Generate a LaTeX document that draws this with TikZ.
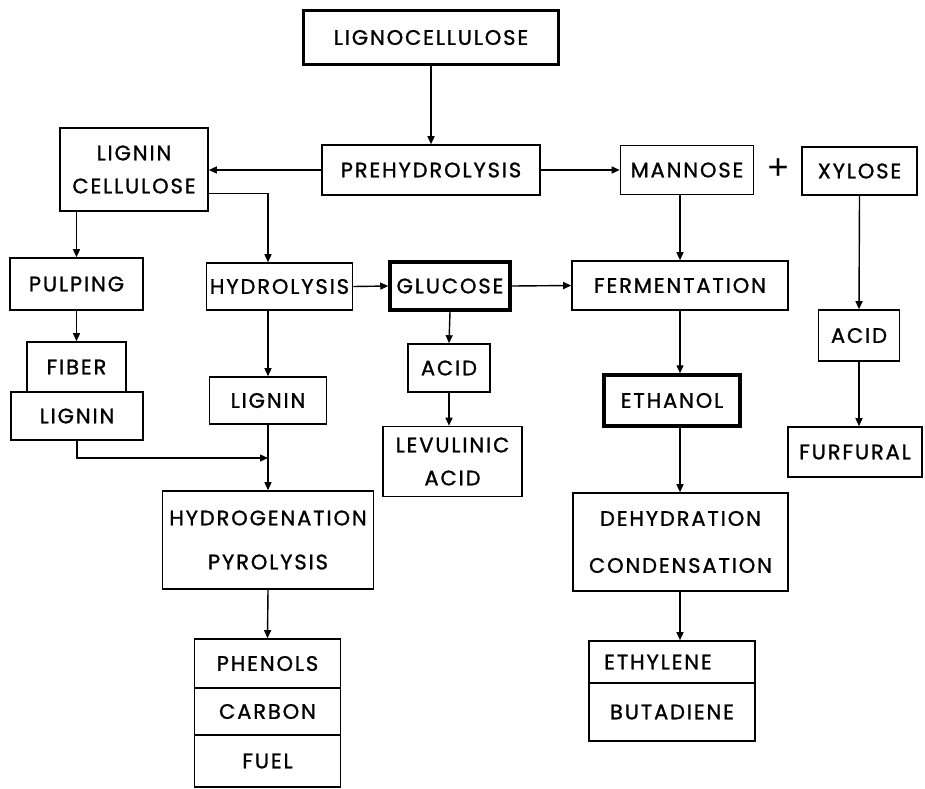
\documentclass[tikz,border=0pt]{standalone}
\usepackage{fontspec}
\setmainfont{Poppins}[LetterSpace=9, FakeBold=1.2]
\newfontfamily\sottile{Liberation Sans}
\usepackage{tikz}
\usetikzlibrary{arrows.meta}

\tikzset{
    box/.style={draw, line width=1.6pt, inner sep=0pt, align=center,
        font=\fontsize{21}{33}\selectfont},
    boldbox/.style={box, line width=3.5pt},
    freccia/.style={line width=1.4pt, -{Triangle[length=8pt,width=7pt]}},
}

\begin{document}
\begin{tikzpicture}[x=1pt, y=-1pt]
    \useasboundingbox (0,0) rectangle (925,788);

    % Scatole
    \node[boldbox, minimum width=255pt, minimum height=54pt] (ligno) at (431,37.5) {LIGNOCELLULOSE};
    \node[box, minimum width=218pt, minimum height=50pt] (prehyd) at (431,170) {PREHYDROLYSIS};
    \node[box, minimum width=148pt, minimum height=83pt] (lc) at (134,169.5) {LIGNIN\\CELLULOSE};
    \node[box, minimum width=133pt, minimum height=49pt] (mannose) at (687,170) {MANNOSE};
    \node[font=\sottile\fontsize{36}{36}\selectfont] (piu) at (778,169) {+};
    \node[box, minimum width=115pt, minimum height=48pt] (xylose) at (859.5,171) {XYLOSE};

    \node[box, minimum width=133pt, minimum height=52pt] (pulp) at (76.5,284) {PULPING};
    \node[box, minimum width=146pt, minimum height=47pt] (hydro) at (279.5,286.5) {HYDROLYSIS};
    \node[boldbox, minimum width=120pt, minimum height=48pt] (gluc) at (450,286) {GLUCOSE};
    \node[box, minimum width=216pt, minimum height=49pt] (ferm) at (680,285.5) {FERMENTATION};
    \node[box, minimum width=81pt, minimum height=51pt] (acidr) at (859,335.5) {ACID};
    \node[box, minimum width=134pt, minimum height=50pt] (furf) at (855,452) {FURFURAL};

    \node[box, minimum width=99pt, minimum height=50pt] (fiber) at (76.5,367) {FIBER};
    \node[box, minimum width=132pt, minimum height=48pt] (lig2) at (77,416) {LIGNIN};
    \node[box, minimum width=117pt, minimum height=47pt] (ligmid) at (268,400.5) {LIGNIN};
    \node[box, minimum width=82pt, minimum height=48pt] (acidm) at (449,368) {ACID};
    \node[box, minimum width=139pt, minimum height=70pt] (levul) at (452.5,461.5) {LEVULINIC\\ACID};
    \node[boldbox, minimum width=136pt, minimum height=51pt] (ethanol) at (672,400.5) {ETHANOL};

    \node[box, minimum width=211pt, minimum height=98pt] (hydrog) at (268,540) {HYDROGENATION\\[11pt]PYROLYSIS};
    \node[box, minimum width=215pt, minimum height=98pt] (dehyd) at (680.5,542) {DEHYDRATION\\[14pt]CONDENSATION};

    \node[box, minimum width=146pt, minimum height=49pt] (phen) at (267.5,663.5) {PHENOLS};
    \node[box, minimum width=146pt, minimum height=47pt] (carb) at (267.5,711.5) {CARBON};
    \node[box, minimum width=146pt, minimum height=52pt] (fuel) at (267.5,761) {FUEL};

    \node[box, minimum width=166pt, minimum height=42pt] (ethyl) at (672,662) {\hspace*{-28pt}ETHYLENE};
    \node[box, minimum width=166pt, minimum height=58pt] (buta) at (672,712) {BUTADIENE};

    % Frecce
    \draw[freccia] (ligno.south) -- (prehyd.north);
    \draw[freccia] (prehyd.west) -- (prehyd.west -| lc.east);
    \draw[freccia] (prehyd.east) -- (mannose.west);
    \draw[freccia] (lc.south -| pulp) -- (pulp.north);
    \draw[freccia] ([yshift=-24pt]lc.east) -| (hydro.north -| ligmid.north);
    \draw[freccia] (hydro.east) -- (gluc.west);
    \draw[freccia] (gluc.east) -- (ferm.west);
    \draw[freccia] (mannose.south -| ferm) -- (ferm.north -| ferm);
    \draw[freccia] (xylose.south) -- (acidr.north);
    \draw[freccia] (acidr.south) -- (acidr.south |- furf.north);
    \draw[freccia] (pulp.south) -- (fiber.north);
    \draw[freccia] (hydro.south -| ligmid) -- (ligmid.north);
    \draw[freccia] (gluc.south) -- (acidm.north);
    \draw[freccia] (acidm.south) -- (acidm.south |- levul.north);
    \draw[freccia] (ferm.south) -- (ferm.south |- ethanol.north);
    \draw[freccia] (ethanol.south -| ferm) -- (dehyd.north -| ferm);
    \draw[freccia] (dehyd.south -| ferm) -- (ethyl.north -| ferm);
    \coordinate (giunto) at (268,458);
    \draw[freccia] (lig2.south) |- (giunto);
    \draw[freccia] (ligmid.south) -- (hydrog.north);
    \draw[freccia] (hydrog.south) -- (phen.north);
\end{tikzpicture}
\end{document}
